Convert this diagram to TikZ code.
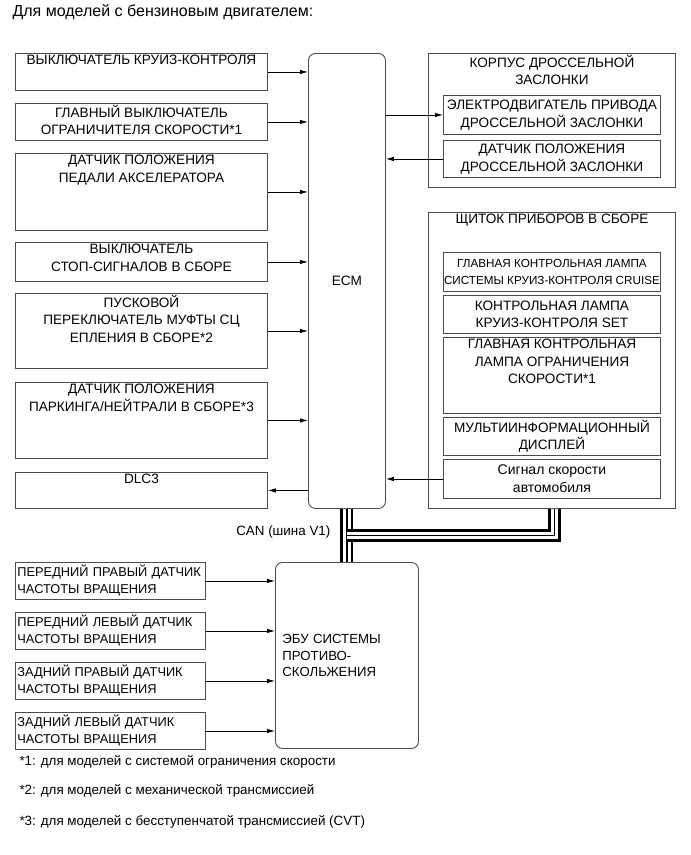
\documentclass[tikz,border=0pt]{standalone}
\usepackage{fontspec}
\setmainfont{Liberation Sans}
\usetikzlibrary{arrows.meta, calc}

\begin{document}
\begin{tikzpicture}[x=1pt, y=-1pt, >={Latex[length=8pt, width=4.5pt]},
                    unit/.style = {draw=black!70, line width=0.9pt, anchor=north west,
                                   inner sep=0pt},
                    ecu/.style = {unit, rounded corners=7pt},
                    boxfont/.style = {font=\fontsize{13.6}{17.5}\selectfont},
                    toptext/.style = {label={[anchor=north, align=center, inner sep=2pt,
                                              boxfont]north:#1}},
                    part/.style = {unit, align=center, boxfont, minimum width=217pt},
                    sensor/.style = {unit, align=left, inner xsep=2pt, text width=186pt,
                                     minimum height=37pt,
                                     font=\fontsize{12.8}{17}\selectfont},
                    feed/.style = {->, line width=0.8pt},
                    cable/.style = {line width=1.2pt,
                                    preaction = {draw, black, line width=13pt},
                                    preaction = {draw, white, line width=7.5pt}},
                    note/.style = {anchor=west, font=\fontsize{13.4}{16}\selectfont}
                   ]

    \useasboundingbox (0, 0) rectangle (691, 855);

    \node[anchor=west, font=\fontsize{16}{19}\selectfont] (title) at (9, 12)
        {Для моделей с бензиновым двигателем:};

    % inputs of the ECM
    \node[unit, minimum width=252pt, minimum height=37pt,
          toptext={ВЫКЛЮЧАТЕЛЬ КРУИЗ-КОНТРОЛЯ}] (cruise) at (15, 53) {};
    \node[unit, minimum width=252pt, minimum height=37pt,
          toptext={ГЛАВНЫЙ ВЫКЛЮЧАТЕЛЬ\\ОГРАНИЧИТЕЛЯ СКОРОСТИ*1}] (limiter) at (15, 103) {};
    \node[unit, minimum width=252pt, minimum height=77pt,
          toptext={ДАТЧИК ПОЛОЖЕНИЯ\\ПЕДАЛИ АКСЕЛЕРАТОРА}] (pedal) at (15, 153) {};
    \node[unit, minimum width=252pt, minimum height=39pt,
          toptext={ВЫКЛЮЧАТЕЛЬ\\СТОП-СИГНАЛОВ В СБОРЕ}] (stoplamp) at (15, 242) {};
    \node[unit, minimum width=252pt, minimum height=75pt,
          toptext={ПУСКОВОЙ\\ПЕРЕКЛЮЧАТЕЛЬ МУФТЫ СЦ\\ЕПЛЕНИЯ В СБОРЕ*2}] (clutch) at (15, 293) {};
    \node[unit, minimum width=252pt, minimum height=76pt,
          toptext={ДАТЧИК ПОЛОЖЕНИЯ\\ПАРКИНГА/НЕЙТРАЛИ В СБОРЕ*3}] (park) at (15, 382) {};
    \node[unit, minimum width=252pt, minimum height=36pt,
          toptext={DLC3}] (dlc) at (15, 472) {};

    \node[ecu, minimum width=77pt, minimum height=455pt, boxfont] (ecm) at (308, 53) {ECM};

    % throttle body
    \node[unit, minimum width=247pt, minimum height=134pt,
          toptext={КОРПУС ДРОССЕЛЬНОЙ\\ЗАСЛОНКИ}] (throttle) at (428, 53) {};
    \node[part, minimum height=39pt] (motor) at (443, 95)
        {ЭЛЕКТРОДВИГАТЕЛЬ ПРИВОДА\\ДРОССЕЛЬНОЙ ЗАСЛОНКИ};
    \node[part, minimum height=37pt] (tps) at (443, 140)
        {ДАТЧИК ПОЛОЖЕНИЯ\\ДРОССЕЛЬНОЙ ЗАСЛОНКИ};

    % combination meter
    \node[unit, minimum width=247pt, minimum height=296pt,
          toptext={ЩИТОК ПРИБОРОВ В СБОРЕ}] (cluster) at (428, 212) {};
    \node[part, minimum height=39pt, font=\fontsize{11.7}{17}\selectfont] (lampcruise) at (443, 252)
        {ГЛАВНАЯ КОНТРОЛЬНАЯ ЛАМПА\\СИСТЕМЫ КРУИЗ-КОНТРОЛЯ CRUISE};
    \node[part, minimum height=38pt] (lampset) at (443, 295)
        {КОНТРОЛЬНАЯ ЛАМПА\\КРУИЗ-КОНТРОЛЯ SET};
    \node[unit, minimum width=217pt, minimum height=76pt,
          toptext={ГЛАВНАЯ КОНТРОЛЬНАЯ\\ЛАМПА ОГРАНИЧЕНИЯ\\СКОРОСТИ*1}] (lamplimit) at (443, 337) {};
    \node[part, minimum height=38pt] (display) at (443, 417)
        {МУЛЬТИИНФОРМАЦИОННЫЙ\\ДИСПЛЕЙ};
    \node[part, minimum height=39pt, font=\fontsize{14}{18}\selectfont] (speed) at (443, 459)
        {Сигнал скорости\\автомобиля};

    % skid control ECU and its sensors
    \node[ecu, align=left, inner xsep=7pt, text width=129pt, minimum height=186pt,
          font=\fontsize{13.2}{16.5}\selectfont] (abs) at (275, 562)
        {ЭБУ СИСТЕМЫ\\ПРОТИВО-\\СКОЛЬЖЕНИЯ};
    \node[sensor] (fr) at (15, 562) {ПЕРЕДНИЙ ПРАВЫЙ ДАТЧИК\\ЧАСТОТЫ ВРАЩЕНИЯ};
    \node[sensor] (fl) at (15, 612) {ПЕРЕДНИЙ ЛЕВЫЙ ДАТЧИК\\ЧАСТОТЫ ВРАЩЕНИЯ};
    \node[sensor] (rr) at (15, 662) {ЗАДНИЙ ПРАВЫЙ ДАТЧИК\\ЧАСТОТЫ ВРАЩЕНИЯ};
    \node[sensor] (rl) at (15, 712) {ЗАДНИЙ ЛЕВЫЙ ДАТЧИК\\ЧАСТОТЫ ВРАЩЕНИЯ};

    \draw[feed] (cruise.east) -- (cruise.east -| ecm.west);
    \draw[feed] (limiter.east) -- (limiter.east -| ecm.west);
    \draw[feed] (pedal.east) -- (pedal.east -| ecm.west);
    \draw[feed] (stoplamp.east) -- (stoplamp.east -| ecm.west);
    \draw[feed] (clutch.east) -- (clutch.east -| ecm.west);
    \draw[feed] (park.east) -- (park.east -| ecm.west);
    \draw[feed] (dlc.east -| ecm.west) -- (dlc.east);

    \draw[feed] (motor.west -| ecm.east) -- (motor.west);
    \draw[feed] (tps.west) -- (tps.west -| ecm.east);
    \draw[feed] (speed.west) -- (speed.west -| ecm.east);

    \draw[feed] (fr.east) -- (fr.east -| abs.west);
    \draw[feed] (fl.east) -- (fl.east -| abs.west);
    \draw[feed] (rr.east) -- (rr.east -| abs.west);
    \draw[feed] (rl.east) -- (rl.east -| abs.west);

    % CAN bus
    \coordinate (junction) at ($(ecm.south)!0.5!(abs.north)$);
    \draw[cable] (ecm.south) -- (abs.north);
    \draw[cable] ([xshift=2.5pt]cluster.south) |- (junction);
    \node[anchor=east, font=\fontsize{13.4}{15}\selectfont] (can) at ([xshift=-13pt, yshift=3pt]junction)
        {CAN (шина V1)};

    \node[note] (note1) at (16, 762) {*1: для моделей с системой ограничения скорости};
    \node[note] (note2) at (16, 791) {*2: для моделей с механической трансмиссией};
    \node[note] (note3) at (16, 822) {*3: для моделей с бесступенчатой трансмиссией (CVT)};

\end{tikzpicture}
\end{document}
